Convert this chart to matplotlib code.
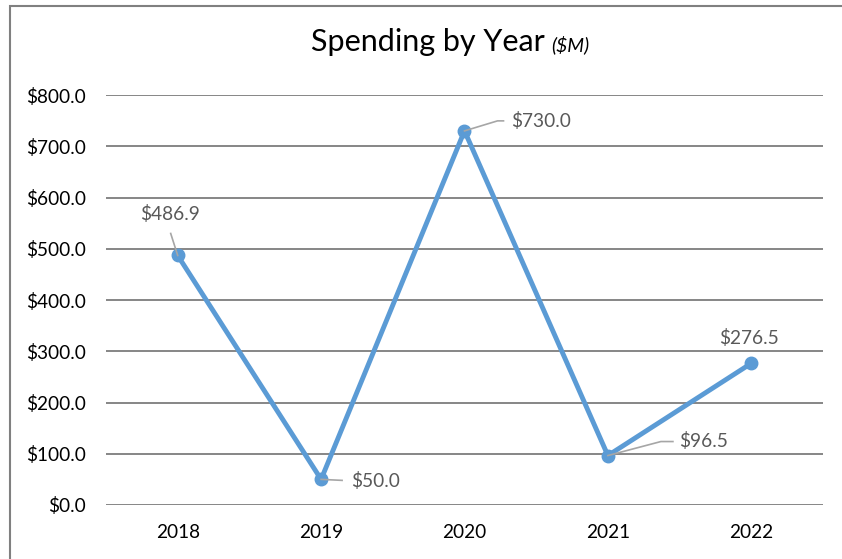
import matplotlib
matplotlib.use("Agg")
import matplotlib.pyplot as plt
from matplotlib.patches import Rectangle
from matplotlib.lines import Line2D
from matplotlib.transforms import IdentityTransform

years = ["2018", "2019", "2020", "2021", "2022"]
spending = [486.9, 50.0, 730.0, 96.5, 276.5]
y_ticks = [0, 100, 200, 300, 400, 500, 600, 700, 800]

plt.rcParams["font.family"] = ["Lato", "DejaVu Sans"]

fig = plt.figure(figsize=(8.42, 5.59), dpi=100)
fig.patch.set_facecolor("white")

# chart frame (runs past the right and bottom edges)
fig.add_artist(Rectangle((10 / 842, -0.05), 1.2, 1 - 6 / 559 + 0.05,
                         transform=fig.transFigure, fill=False,
                         edgecolor="#808080", linewidth=1.5))

ax = fig.add_axes([106 / 842, 1 - 505 / 559, 717 / 842, 410 / 559])
x = list(range(len(years)))
ax.plot(x, spending, color="#5B9BD5", linewidth=3.5, marker="o",
        markersize=9, zorder=3, solid_capstyle="round")

ax.set_xlim(-0.5, len(years) - 0.5)
ax.set_ylim(0, 800)
ax.set_yticks(y_ticks)
ax.set_yticklabels([f"${v:.1f}" for v in y_ticks])
ax.set_xticks(x)
ax.set_xticklabels(years)
ax.tick_params(length=0, labelsize=13.7, colors="#000000")
ax.tick_params(axis="y", pad=14.5)
ax.tick_params(axis="x", pad=14)
for s in ax.spines.values():
    s.set_visible(False)
ax.grid(axis="y", color="#868686", linewidth=1.4)
ax.set_axisbelow(True)

# data labels: text offset (px) and leader-line vertices (px, relative to point)
text_offsets = [(-8, 41), (54, -2), (77, 10), (96, 15), (-2, 25)]
leaders = [
    [(0, 0), (-7, 22)],
    [(0, 0), (21, -1)],
    [(0, 0), (33, 10), (39, 10)],
    [(0, 0), (53, 14), (65, 14)],
    None,
]
for xi, v, toff, lead in zip(x, spending, text_offsets, leaders):
    px, py = ax.transData.transform((xi, v))
    if lead is not None:
        fig.add_artist(Line2D([px + dx for dx, dy in lead],
                              [py + dy for dx, dy in lead],
                              transform=IdentityTransform(),
                              color="#A6A6A6", linewidth=1.2, zorder=2.5))
    ax.annotate(f"${v:.1f}", xy=(xi, v), xytext=toff, textcoords="offset pixels",
                ha="center", va="center", fontsize=13.8, color="#595959", zorder=4)

fig.text(545 / 842, 1 - 42 / 559, "Spending by Year", ha="right", va="center",
         fontsize=22, color="#000000")
fig.text(551 / 842, 1 - 45 / 559, "($M)", ha="left", va="center",
         fontsize=14, style="italic", color="#000000")

fig.savefig("out.png", dpi=100, facecolor="white")
